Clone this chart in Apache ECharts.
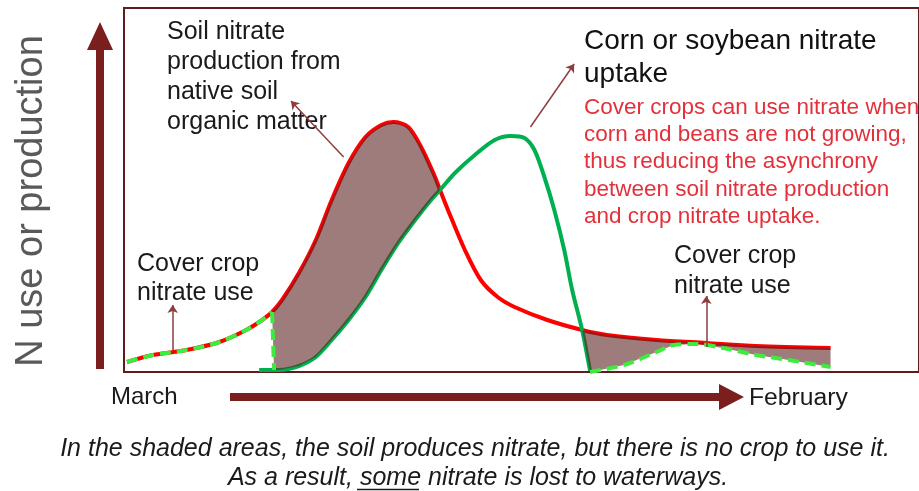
<!DOCTYPE html>
<html>
<head>
<meta charset="utf-8">
<script src="https://cdn.jsdelivr.net/npm/echarts@6/dist/echarts.min.js"></script>
<style>
  html, body { margin: 0; padding: 0; background: #fff; }
  #chart { width: 919px; height: 491px; }
</style>
</head>
<body>
<div id="chart"></div>
<script>
// values, x = time from March to February, y = N use or production
const soilNitrate = [[3,10],[29,17],[63,22],[96,30],[123,42],[139,52],[149,60],[159,72],[176,99],[193,132],[209,172],[226,209],[243,235],[259,247],[271,250],[286,245],[299,225],[313,195],[318,182],[326,162],[343,122],[359,92],[376,75],[393,65],[426,52],[461,42],[486,37],[536,32],[586,29],[636,26],[711,24]];
const cropUptake = [[136,2],[156,2],[176,6],[193,15],[209,32],[226,52],[243,75],[259,102],[276,129],[293,152],[309,172],[318,182],[333,199],[353,217],[373,232],[389,236],[403,234],[413,222],[423,195],[433,162],[443,122],[451,82],[461,42],[469,1]];
const coverCropSpring = [[3,10],[29,17],[63,22],[96,30],[123,42],[139,52],[149,60]];
const coverCropDrop = [[149,60],[151,2]];
const coverCropFall = [[469,0],[503,7],[536,20],[553,27],[576,28],[603,24],[636,17],[669,12],[711,5]];

// shaded areas: soil produces nitrate but no crop uses it
const shadeSpring = soilNitrate.filter(p => p[0] >= 149 && p[0] <= 318)
  .concat(cropUptake.filter(p => p[0] >= 156 && p[0] <= 318).reverse(), [[151,2]]);
const shadeFall = soilNitrate.filter(p => p[0] >= 461)
  .concat(coverCropFall.slice().reverse());
const shades = [shadeSpring, shadeFall];

const pointers = [
  [[221,215],[168,271]],
  [[409,245],[453,308]],
  [[49,22],[49,67]],
  [[586,25],[586,76]]
];

const chart = echarts.init(document.getElementById('chart'));
const dark = '#7b1e1e';
const txt = '#1a1a1a';
const font = 'Liberation Sans, Arial, sans-serif';

chart.setOption({
  animation: false,
  grid: { left: 124, top: 8, right: -5, bottom: 119, show: true, borderColor: '#5e1c1c', borderWidth: 2 },
  xAxis: { type: 'value', min: 0, max: 800, show: false },
  yAxis: { type: 'value', min: 0, max: 364, show: false },
  series: [
    {
      type: 'line', data: soilNitrate, smooth: 0.3, symbol: 'none', z: 2,
      lineStyle: { color: '#ff0000', width: 4 },
      markLine: {
        silent: true, symbol: ['none', 'arrow'], symbolSize: 8,
        label: { show: false },
        lineStyle: { color: '#8e3d3d', width: 1.5, type: 'solid' },
        data: pointers.map(p => [{ coord: p[0] }, { coord: p[1] }])
      }
    },
    {
      type: 'line', data: cropUptake, smooth: 0.3, symbol: 'none', z: 2,
      lineStyle: { color: '#00b050', width: 4 }
    },
    {
      type: 'custom', z: 3, silent: true,
      data: [[0, 0], [0, 0]],
      renderItem: function (params, api) {
        return {
          type: 'polygon',
          shape: { points: shades[params.dataIndex].map(p => api.coord(p)) },
          style: { fill: 'rgba(93,37,37,0.6)' }
        };
      }
    },
    {
      type: 'line', data: coverCropSpring, smooth: 0.3, symbol: 'none', z: 4,
      lineStyle: { color: '#3ded3d', width: 4, type: [11, 6] }
    },
    {
      type: 'line', data: coverCropDrop, symbol: 'none', z: 4,
      lineStyle: { color: '#3ded3d', width: 4, type: [11, 6] }
    },
    {
      type: 'line', data: coverCropFall, smooth: 0.3, symbol: 'none', z: 4,
      lineStyle: { color: '#3ded3d', width: 4, type: [11, 6] }
    }
  ],
  graphic: [
    { type: 'rect', shape: { x: 96, y: 48, width: 8, height: 321 }, style: { fill: dark } },
    { type: 'polygon', shape: { points: [[87, 50], [113, 50], [100, 22]] }, style: { fill: dark } },
    { type: 'rect', shape: { x: 230, y: 393, width: 492, height: 8 }, style: { fill: dark } },
    { type: 'polygon', shape: { points: [[719, 384], [719, 410], [744, 397]] }, style: { fill: dark } },
    { type: 'text', x: 32, y: 201, rotation: Math.PI / 2,
      style: { text: 'N use or production', fontSize: 38, fontFamily: font, fill: '#595959', align: 'center', verticalAlign: 'middle' } },
    { type: 'text', x: 111, y: 397,
      style: { text: 'March', fontSize: 24, fontFamily: font, fill: txt, verticalAlign: 'middle' } },
    { type: 'text', x: 749, y: 398,
      style: { text: 'February', fontSize: 24.7, fontFamily: font, fill: txt, verticalAlign: 'middle' } },
    { type: 'text', x: 167, y: 17,
      style: { text: 'Soil nitrate\nproduction from\nnative soil\norganic matter', fontSize: 25, lineHeight: 30, fontFamily: font, fill: txt, verticalAlign: 'top' } },
    { type: 'text', x: 584, y: 25,
      style: { text: 'Corn or soybean nitrate\nuptake', fontSize: 28, lineHeight: 33, fontFamily: font, fill: '#111', verticalAlign: 'top' } },
    { type: 'text', x: 584, y: 94,
      style: { text: 'Cover crops can use nitrate when\ncorn and beans are not growing,\nthus reducing the asynchrony\nbetween soil nitrate production\nand crop nitrate uptake.', fontSize: 22.5, lineHeight: 27.3, fontFamily: font, fill: '#e2313b', verticalAlign: 'top' } },
    { type: 'text', x: 137, y: 250,
      style: { text: 'Cover crop\nnitrate use', fontSize: 25, lineHeight: 29, fontFamily: font, fill: txt, verticalAlign: 'top' } },
    { type: 'text', x: 674, y: 241,
      style: { text: 'Cover crop\nnitrate use', fontSize: 25, lineHeight: 30, fontFamily: font, fill: txt, verticalAlign: 'top' } },
    { type: 'text', x: 475, y: 449,
      style: { text: 'In the shaded areas, the soil produces nitrate, but there is no crop to use it.', fontSize: 25, fontStyle: 'italic', fontFamily: font, fill: txt, align: 'center', verticalAlign: 'middle' } },
    { type: 'text', x: 478, y: 478,
      style: { text: 'As a result, some nitrate is lost to waterways.', fontSize: 25, fontStyle: 'italic', fontFamily: font, fill: txt, align: 'center', verticalAlign: 'middle' } },
    { type: 'line', shape: { x1: 357, y1: 489.5, x2: 419, y2: 489.5 }, style: { stroke: txt, lineWidth: 1.5 } }
  ]
});
</script>
</body>
</html>
